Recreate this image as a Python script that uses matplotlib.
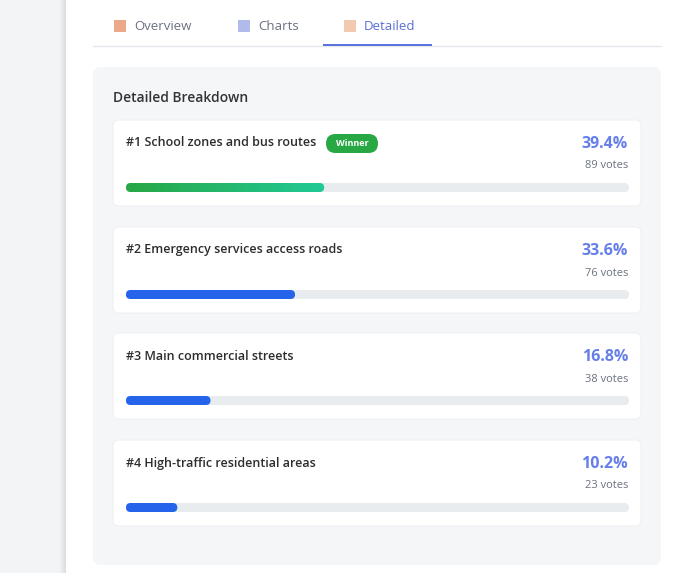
import numpy as np
import matplotlib.pyplot as plt
from matplotlib.patches import FancyBboxPatch, Rectangle
from matplotlib.colors import LinearSegmentedColormap

plt.rcParams['font.family'] = ['Open Sans', 'DejaVu Sans']

labels = ['School zones and bus routes', 'Emergency services access roads',
          'Main commercial streets', 'High-traffic residential areas']
pcts = [39.4, 33.6, 16.8, 10.2]
votes = [89, 76, 38, 23]
tabs = ['Overview', 'Charts', 'Detailed']

fig = plt.figure(figsize=(6.83, 5.73), dpi=100)
ax = fig.add_axes([0, 0, 1, 1])
ax.set_xlim(0, 683)
ax.set_ylim(573, 0)
ax.axis('off')

def rbox(x, y, w, h, r, fc, ec='none', z=1, lw=0):
    p = FancyBboxPatch((x + r, y + r), w - 2 * r, h - 2 * r,
                       boxstyle=f'round,pad={r}', fc=fc, ec=ec, lw=lw, zorder=z)
    ax.add_patch(p)
    return p

# left sidebar strip with shadow
ax.add_patch(Rectangle((0, 0), 66, 573, fc='#f3f4f6', ec='none', zorder=0))
for i in range(6):
    ax.add_patch(Rectangle((60 + i, 0), 1, 573, fc='#000000', alpha=0.015 * (i + 1), ec='none', zorder=0))

# tabs
ax.plot([93, 661], [46, 46], color='#e5e7eb', lw=1, zorder=1)
tab_x = [134, 258, 364]
icon_col = ['#e0703a', '#7c8ee0', '#e8a87c']
for i, t in enumerate(tabs):
    col = '#5a6fd6' if i == 2 else '#6b7280'
    ax.text(tab_x[i], 26, t, fontsize=9.5, color=col, va='center', ha='left')
    ax.add_patch(Rectangle((tab_x[i] - 20, 20), 12, 12, fc=icon_col[i], ec='none', alpha=0.6))
ax.add_patch(Rectangle((323, 43.5), 109, 2.5, fc='#5a73e0', ec='none', zorder=2))

# panel
rbox(93, 67, 568, 498, 8, '#f5f6f8', z=1)
ax.text(113, 98, 'Detailed Breakdown', fontsize=10, color='#333333',
        fontweight='semibold', va='center')

card_y = [120, 227, 333, 440]
bx, bw, bh = 126, 503, 9
grad = LinearSegmentedColormap.from_list('g', ['#28a745', '#20c997'])
for i in range(4):
    y = card_y[i]
    rbox(113, y, 528, 86, 6, 'white', ec='#eceef1', z=2, lw=0.6)
    ax.text(126, y + 23, f'#{i + 1} {labels[i]}', fontsize=9, color='#2d2d2d',
            fontweight='semibold', va='center', zorder=3)
    ax.text(628, y + 24, f'{pcts[i]}%', fontsize=11.5, color='#667eea',
            fontweight='bold', va='center', ha='right', zorder=3)
    ax.text(628, y + 46, f'{votes[i]} votes', fontsize=8, color='#6b7280',
            va='center', ha='right', zorder=3)
    by = y + 63
    rbox(bx, by, bw, bh, bh / 2, '#e9ecef', z=3)
    fw = bw * pcts[i] / 100
    if i == 0:
        clip = rbox(bx, by, fw, bh, bh / 2, 'none', z=4)
        im = ax.imshow(np.linspace(0, 1, 256)[None, :], cmap=grad, aspect='auto',
                       extent=(bx, bx + fw, by + bh, by), zorder=4)
        im.set_clip_path(clip)
        rbox(326, y + 14, 52, 19, 9.5, '#28a745', z=4)
        ax.text(352, y + 23.5, 'Winner', fontsize=6.5, color='white',
                fontweight='bold', ha='center', va='center', zorder=5)
    else:
        rbox(bx, by, fw, bh, bh / 2, '#2563eb', z=4)

ax.set_xlim(0, 683)
ax.set_ylim(573, 0)
fig.savefig('out.png', dpi=100)
